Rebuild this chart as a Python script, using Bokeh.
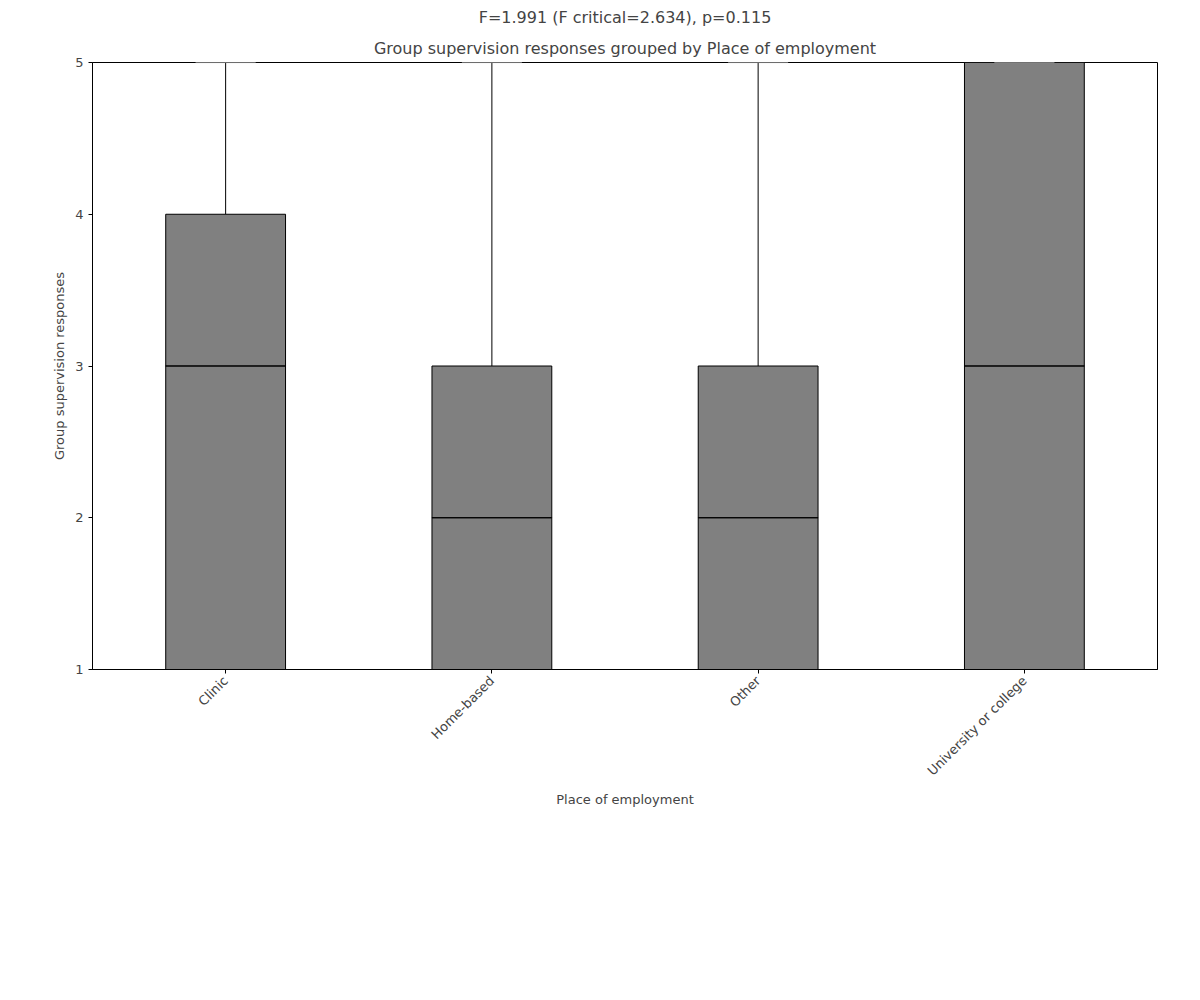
from bokeh.plotting import figure
from bokeh.models import Title
from bokeh.embed import file_html
from bokeh.resources import INLINE
from math import pi

categories = ["Clinic", "Home-based", "Other", "University or college"]
lower_whisker = [1, 1, 1, 1]
q1 = [1, 1, 1, 1]
median = [3, 2, 2, 3]
q3 = [4, 3, 3, 5]
upper_whisker = [5, 5, 5, 5]

p = figure(x_range=categories, y_range=(1, 5), width=1184, height=984,
           output_backend="svg", toolbar_location=None,
           min_border_left=92, min_border_right=27, min_border_top=62, min_border_bottom=315)
p.title.text = "F=1.991 (F critical=2.634), p=0.115"
p.title.align = "center"
p.title.text_font_size = "16px"
p.title.text_font_style = "normal"
p.title.text_font = "DejaVu Sans"
p.add_layout(Title(text="Group supervision responses grouped by Place of employment",
                   align="center", text_font_size="16px", text_font_style="normal",
                   text_font="DejaVu Sans"), "above")

p.segment(categories, q3, categories, upper_whisker, line_color="black")
p.segment(categories, lower_whisker, categories, q1, line_color="black")
p.vbar(x=categories, bottom=q1, top=q3, width=0.45, fill_color="#808080",
       line_color="black")
p.rect(x=categories, y=median, width=0.45, height=0.001, line_color="black",
       fill_color="black")
p.rect(x=categories, y=upper_whisker, width=0.225, height=0.001, line_color="#999999")

p.xgrid.visible = False
p.ygrid.visible = False
p.outline_line_color = "black"
p.xaxis.major_label_orientation = pi / 4
p.xaxis.axis_label = "Place of employment"
p.yaxis.axis_label = "Group supervision responses"
p.yaxis.ticker = [1, 2, 3, 4, 5]
for ax in (p.xaxis, p.yaxis):
    ax.axis_label_text_font_style = "normal"
    ax.axis_label_text_font_size = "13px"
    ax.major_label_text_font_size = "13px"
    ax.axis_label_text_font = "DejaVu Sans"
    ax.major_label_text_font = "DejaVu Sans"
    ax.minor_tick_line_color = None
    ax.major_tick_out = 4
    ax.major_tick_in = 0
    ax.axis_line_color = "black"

open("out.html", "w").write(file_html(p, INLINE))
